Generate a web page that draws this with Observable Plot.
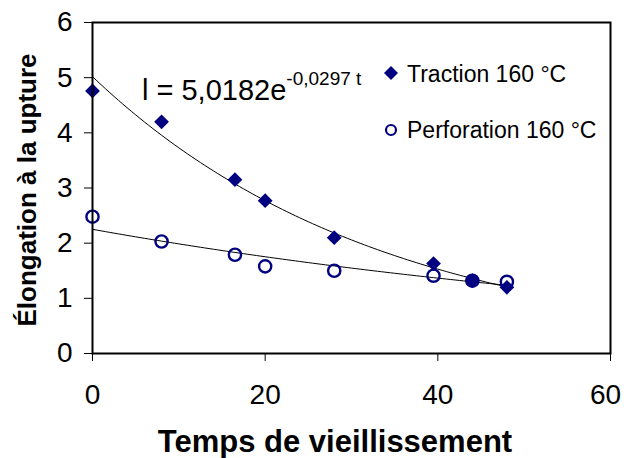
<!DOCTYPE html>
<html><head><meta charset="utf-8">
<script src="https://cdn.jsdelivr.net/npm/d3@7"></script>
<script src="https://cdn.jsdelivr.net/npm/@observablehq/plot@0.6"></script>
<style>
body{margin:0;background:#fff;}
#wrap{width:624px;height:458px;}
</style></head><body><div id="wrap"></div>
<script>
// ---- data ----
const times = [0, 8, 16.5, 20, 28, 39.5, 44, 48];
const traction = [4.76, 4.20, 3.15, 2.77, 2.10, 1.63, 1.32, 1.20];
const perforation = [2.48, 2.03, 1.79, 1.58, 1.50, 1.41, 1.32, 1.30];
const xTicks = [0, 20, 40, 60];
const yTicks = [0, 1, 2, 3, 4, 5, 6];
const seriesNames = ["Traction 160 °C", "Perforation 160 °C"];
const xTitle = "Temps de vieillissement";
const yTitle = "Élongation à la upture";
const eqMain = "l = 5,0182e";
const eqExp = "-0,0297 t";
const tractionFit = {a: 5.0182, b: -0.0297}; // from the equation label

const navy = "#000080";
const font = "Arial, 'Liberation Sans', sans-serif";

// exponential (log-linear) fit for the perforation trend, as Excel does
function expFit(xs, ys) {
  const ly = ys.map(Math.log);
  const mx = d3.mean(xs), my = d3.mean(ly);
  let sxy = 0, sxx = 0;
  xs.forEach((x, i) => { sxy += (x - mx) * (ly[i] - my); sxx += (x - mx) ** 2; });
  const b = sxy / sxx;
  return {a: Math.exp(my - b * mx), b};
}
const perfFit = expFit(times, perforation);
function curve(fit) {
  const t0 = d3.min(times), t1 = d3.max(times);
  return d3.range(t0, t1 + 1e-9, 0.5).map(t => ({t, v: fit.a * Math.exp(fit.b * t)}));
}

const tracRows = times.map((t, i) => ({t, v: traction[i]}));
const perfRows = times.map((t, i) => ({t, v: perforation[i]}));
const lastX = xTicks[xTicks.length - 1];

const diamond = {
  draw(ctx, size) {
    const s = Math.sqrt(size / 2);
    ctx.moveTo(0, -s); ctx.lineTo(s, 0); ctx.lineTo(0, s); ctx.lineTo(-s, 0); ctx.closePath();
  }
};

const plot = Plot.plot({
  width: 624, height: 458,
  marginLeft: 92, marginRight: 14, marginTop: 22, marginBottom: 105,
  style: {fontFamily: font, background: "white", color: "black"},
  x: {domain: [0, 60]},
  y: {domain: [0, 6]},
  marks: [
    Plot.axisY({ticks: yTicks, tickFormat: d3.format("d"), tickSize: 8, tickPadding: 12, fontSize: 28, label: null, stroke: "black"}),
    Plot.axisX({ticks: xTicks, tickFormat: d => d === lastX ? "" : d3.format("d")(d), tickSize: 8, tickPadding: 23, fontSize: 28, label: null, stroke: "black"}),
    Plot.text([lastX], {x: d => d, frameAnchor: "bottom", lineAnchor: "top", dy: 31, dx: -5, fontSize: 28, text: d => d3.format("d")(d), fill: "black"}),
    Plot.line(curve(tractionFit), {x: "t", y: "v", stroke: "black", strokeWidth: 1}),
    Plot.line(curve(perfFit), {x: "t", y: "v", stroke: "black", strokeWidth: 1}),
    Plot.dot(perfRows, {x: "t", y: "v", r: 6.1, stroke: navy, strokeWidth: 2.4, fill: "none"}),
    Plot.dot(tracRows, {x: "t", y: "v", r: 5.9, symbol: diamond, fill: navy, stroke: "none"}),
    Plot.frame({stroke: "black", strokeWidth: 2})
  ]
});

const svg = d3.select(plot);
// equation label
const eq = svg.append("text").attr("x", 142).attr("y", 100).attr("text-anchor", "start")
  .attr("font-family", font).attr("font-size", 29).attr("fill", "black").text(eqMain);
eq.append("tspan").attr("font-size", 19).attr("dy", -15).text(eqExp);

// legend
const lg = svg.append("g").attr("font-family", font).attr("font-size", 23).attr("fill", "black")
  .attr("text-anchor", "start");
lg.append("path").attr("d", "M391,66L398,73L391,80L384,73Z").attr("fill", navy);
lg.append("text").attr("x", 407).attr("y", 81.5).text(seriesNames[0]);
lg.append("circle").attr("cx", 391).attr("cy", 130).attr("r", 5).attr("fill", "none")
  .attr("stroke", navy).attr("stroke-width", 2.2);
lg.append("text").attr("x", 407).attr("y", 137.5).text(seriesNames[1]);

// axis titles
svg.append("text").attr("x", 335).attr("y", 452).attr("text-anchor", "middle")
  .attr("font-family", font).attr("font-size", 31).attr("font-weight", "bold").text(xTitle);
svg.append("text").attr("transform", "translate(36,190) rotate(-90)").attr("text-anchor", "middle")
  .attr("font-family", font).attr("font-size", 26).attr("font-weight", "bold").text(yTitle);

document.getElementById("wrap").appendChild(plot);
</script>
</body></html>
